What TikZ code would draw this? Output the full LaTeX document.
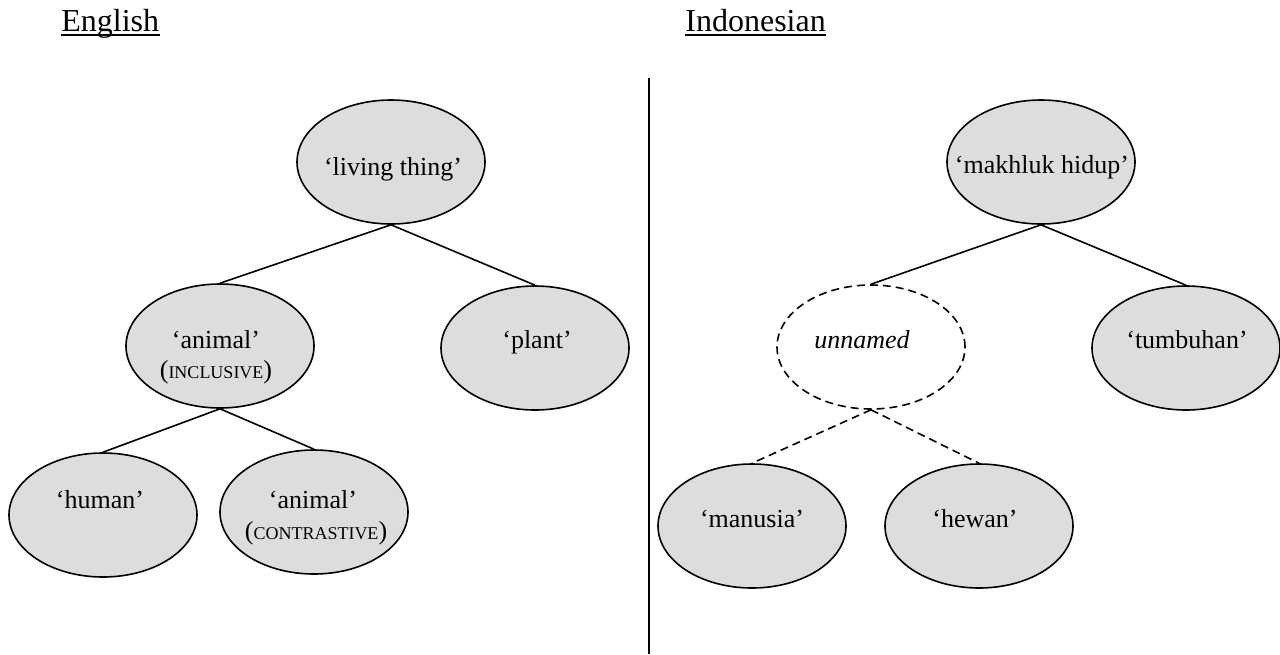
\documentclass[tikz,border=0pt]{standalone}
\usepackage{fontspec}
\setmainfont{Liberation Serif}
\usetikzlibrary{shapes.geometric}
\definecolor{ellfill}{RGB}{221,221,221}
\newcommand{\fakesc}[1]{{\fontsize{9pt}{10pt}\selectfont #1}}
\begin{document}
\begin{tikzpicture}[x=0.5pt,y=-0.5pt,
  ell/.style={ellipse,draw=black,line width=0.8pt,fill=ellfill,minimum width=94pt,minimum height=62pt,inner sep=0pt},
  dell/.style={ellipse,draw=black,line width=0.8pt,dash pattern=on 4pt off 2.5pt,fill=white,minimum width=94pt,minimum height=62pt,inner sep=0pt},
  lbl/.style={anchor=base,inner sep=0pt,font=\fontsize{13pt}{15pt}\selectfont},
  head/.style={anchor=base west,inner sep=0pt,font=\fontsize{16pt}{19pt}\selectfont},
  link/.style={line width=0.8pt},
  dlink/.style={line width=0.8pt,dash pattern=on 4pt off 2.5pt}]
\useasboundingbox (0,0) rectangle (1280,654);
\path[fill=white] (0,0) rectangle (1280,654);
% headers
\node[head] (eng) at (61,31) {English};
\node[head] (ind) at (685,31) {Indonesian};
\draw[line width=0.6pt] ([yshift=-2pt]eng.base west) -- ([yshift=-2pt]eng.base east);
\draw[line width=0.6pt] ([yshift=-2pt]ind.base west) -- ([yshift=-2pt]ind.base east);
% divider
\coordinate (vtop) at (649,78);
\coordinate (vbot) at (649,654);
\draw[line width=0.8pt] (vtop) -- (vbot);
% English tree
\node[ell] (lt) at (391,162) {};
\node[ell] (an) at (220,346) {};
\node[ell] (pl) at (535,348) {};
\node[ell] (hu) at (103,515) {};
\node[ell] (ac) at (314,512) {};
\draw[link] (lt.south) -- (an.north);
\draw[link] (lt.south) -- (pl.north);
\draw[link] (an.south) -- (hu.north);
\draw[link] (an.south) -- (ac.north);
\node[lbl] (ltt) at (393,175) {‘living thing’};
\node[lbl] (ant) at (216,348) {‘animal’};
\node[lbl] (ans) at (216,378) {(\fakesc{INCLUSIVE})};
\node[lbl] (plt) at (537,348) {‘plant’};
\node[lbl] (hut) at (100,508) {‘human’};
\node[lbl] (act) at (313,508) {‘animal’};
\node[lbl] (acs) at (316,539) {(\fakesc{CONTRASTIVE})};
% Indonesian tree
\node[ell] (mh) at (1041,162) {};
\node[dell] (un) at (871,347) {};
\node[ell] (tu) at (1186,348) {};
\node[ell] (ma) at (752,526) {};
\node[ell] (he) at (979,526) {};
\draw[link] (mh.south) -- (un.north);
\draw[link] (mh.south) -- (tu.north);
\draw[dlink] (un.south) -- (ma.north);
\draw[dlink] (un.south) -- (he.north);
\node[lbl] (mht) at (1042,173) {‘makhluk hidup’};
\node[lbl] (unt) at (862,348) {\itshape unnamed};
\node[lbl] (tut) at (1187,348) {‘tumbuhan’};
\node[lbl] (mat) at (752,527) {‘manusia’};
\node[lbl] (het) at (975,527) {‘hewan’};
\end{tikzpicture}
\end{document}
